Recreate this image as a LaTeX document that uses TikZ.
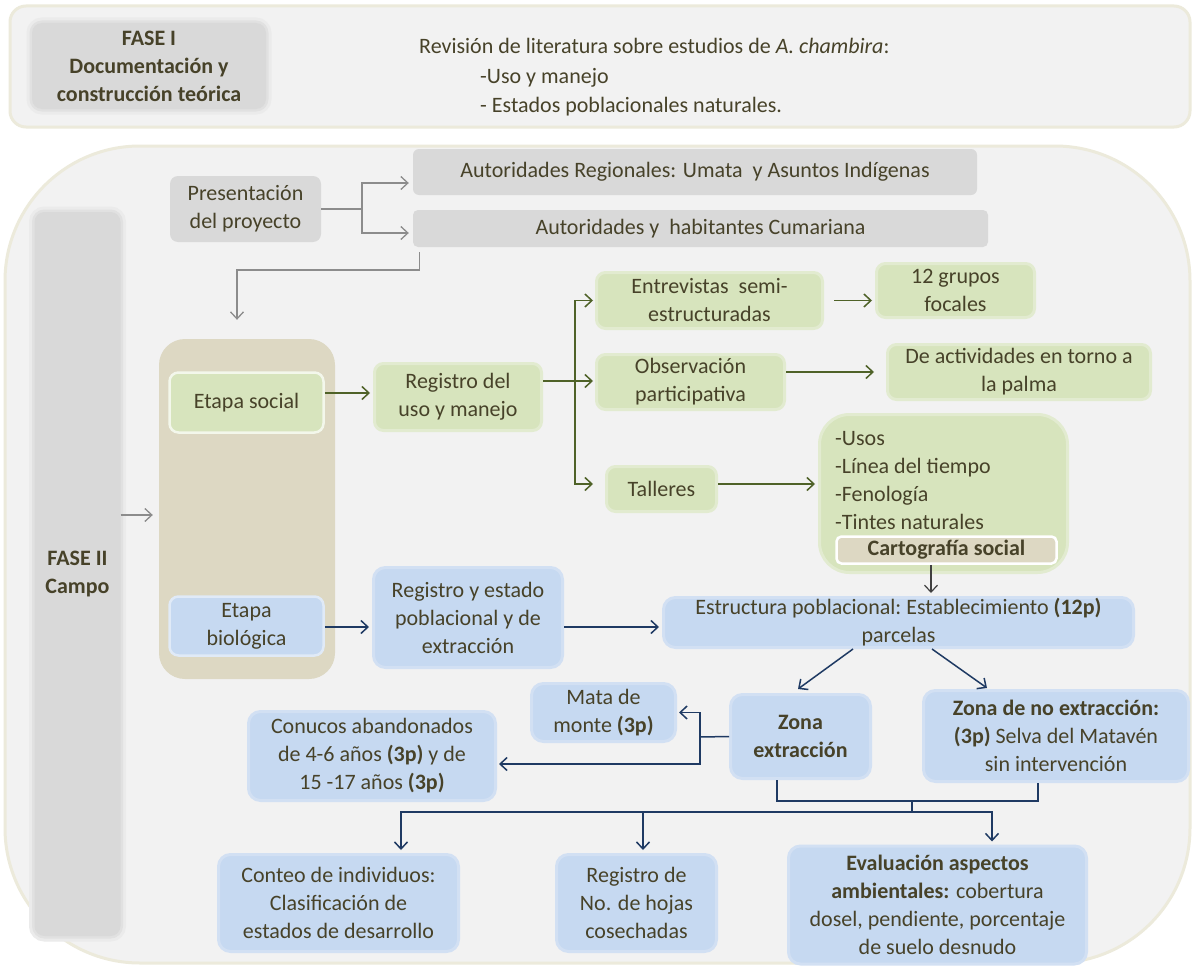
\documentclass[tikz,border=0pt]{standalone}
\usepackage{fontspec}
\setmainfont{Carlito}
\usetikzlibrary{arrows.meta,calc}
\definecolor{txt}{HTML}{474229}
\definecolor{panelfill}{HTML}{F2F2F2}
\definecolor{paneledge}{HTML}{ECEADB}
\definecolor{grayfill}{HTML}{D9D9D9}
\definecolor{grayglowA}{HTML}{EBEBEB}
\definecolor{grayglowB}{HTML}{E1E1E1}
\definecolor{gfill}{HTML}{D7E4BD}
\definecolor{gedge}{HTML}{E2EBD0}
\definecolor{bfill}{HTML}{C6D9F1}
\definecolor{bedge}{HTML}{D2E0F3}
\definecolor{beigec}{HTML}{DDD8C3}
\definecolor{garrowc}{HTML}{4F6228}
\definecolor{barrowc}{HTML}{1F3A63}
\definecolor{grarrowc}{HTML}{8C8C8C}
\definecolor{darrowc}{HTML}{404040}
\begin{document}
\begin{tikzpicture}[x=1pt,y=-1pt,
  nbase/.style={align=center, inner sep=0pt, text=txt, font=\fontsize{22}{28}\selectfont},
  bfont/.style={font=\fontsize{22}{28}\selectfont\bfseries},
  graybox/.style={nbase, fill=grayfill, rounded corners=8pt},
  glowbox/.style={nbase, fill=grayfill, rounded corners=10pt,
    preaction={draw=grayglowA, line width=11pt},
    preaction={draw=grayglowB, line width=5pt}},
  gbox/.style={nbase, fill=gfill, draw=gedge, line width=3pt, rounded corners=9pt},
  bbox/.style={nbase, fill=bfill, draw=bedge, line width=3pt, rounded corners=12pt},
  wgbox/.style={nbase, fill=gfill, draw=white!70!gfill, line width=2.5pt, rounded corners=9pt},
  wbbox/.style={nbase, fill=bfill, draw=white!45!bfill, line width=2.5pt, rounded corners=9pt},
  arrtip/.style={-{Straight Barb[length=7pt,width=13pt]}},
  grarr/.style={draw=grarrowc, line width=1.3pt, arrtip},
  garr/.style={draw=garrowc, line width=1.5pt, arrtip},
  gline/.style={draw=garrowc, line width=1.5pt},
  barr/.style={draw=barrowc, line width=1.5pt, arrtip},
  bline/.style={draw=barrowc, line width=1.5pt},
  darr/.style={draw=darrowc, line width=1.2pt, arrtip},
  textnode/.style={inner sep=0pt, text=txt, font=\fontsize{22}{28}\selectfont}
]
\useasboundingbox (0,0) rectangle (1192,966);
\fill[white] (0,0) rectangle (1192,966);

% ---------- FASE I panel ----------
\path[fill=panelfill, draw=paneledge, line width=3pt, rounded corners=16pt] (10,6) rectangle (1190,127);
\node[glowbox, bfont, minimum width=234pt, minimum height=86pt] (f1) at (149,66) {FASE I\\Documentación y\\construcción teórica};
\node[textnode, anchor=base west] (lit1) at (419,54) {Revisión de literatura\ sobre estudios de \textit{A. chambira}:};
\node[textnode, anchor=base west] (lit2) at (480,84) {-Uso y manejo};
\node[textnode, anchor=base west] (lit3) at (480,112) {- Estados poblacionales\ naturales.};

% ---------- FASE II panel ----------
\path[fill=panelfill, draw=paneledge, line width=3pt, rounded corners=135pt] (5,146) rectangle (1190,963);
\node[glowbox, bfont, minimum width=86pt, minimum height=724pt] (f2) at (77.5,574) {FASE II\\Campo};

\node[graybox, minimum width=151pt, minimum height=66pt] (pres) at (245.5,209) {Presentación\\del proyecto};
\node[graybox, rounded corners=6pt, minimum width=564pt, minimum height=46pt] (autreg) at (695,172) {Autoridades Regionales: Umata\ \ y Asuntos Indígenas};
\node[graybox, rounded corners=5pt, minimum width=575pt, minimum height=37pt] (autcum) at (700.5,228.5) {Autoridades y\ \ habitantes Cumariana};

\node[fill=beigec, rounded corners=26pt, minimum width=176pt, minimum height=340pt, inner sep=0pt] (etapas) at (247,509) {};
\node[wgbox, minimum width=154pt, minimum height=60pt] (esoc) at (246.5,402.5) {Etapa social};
\node[wbbox, minimum width=154pt, minimum height=59pt] (ebio) at (246.5,626) {Etapa\\biológica};

% social branch
\node[gbox, minimum width=167pt, minimum height=67pt] (reguso) at (458,397) {Registro del\\uso y manejo};
\node[gbox, minimum width=226pt, minimum height=56pt] (entrev) at (709.5,300.5) {Entrevistas\ \ semi-\\estructuradas};
\node[gbox, minimum width=158pt, minimum height=54pt] (grupos) at (955.5,290.5) {12 grupos\\focales};
\node[gbox, minimum width=188pt, minimum height=55pt] (obs) at (690.5,382) {Observación\\participativa};
\node[gbox, minimum width=263pt, minimum height=55pt] (activ) at (1019,372) {De actividades\ en torno a\\la palma};
\node[gbox, minimum width=110pt, minimum height=45pt] (talleres) at (661.5,489) {Talleres};
\node[gbox, rounded corners=30pt, minimum width=248pt, minimum height=158pt] (lista) at (943.5,493.5) {};
\node[textnode, align=left, anchor=west] (listtxt) at (835,481) {-Usos\\-Línea del tiempo\\-Fenología\\-Tintes naturales};
\node[nbase, bfont, fill=beigec, draw=white, line width=2.5pt, rounded corners=5pt, minimum width=220pt, minimum height=27pt] (carto) at (946.5,550) {Cartografía social};

% biological branch
\node[bbox, minimum width=189pt, minimum height=100pt] (regest) at (468,617.5) {Registro y estado\\poblacional\ y de\\extracción};
\node[bbox, minimum width=470pt, minimum height=50pt] (estr) at (898.5,622.5) {Estructura poblacional:\ Establecimiento \textbf{(12p)}\\parcelas};
\node[bbox, bfont, minimum width=140pt, minimum height=84pt] (zext) at (800.5,736.5) {Zona\\extracción};
\node[bbox, minimum width=265pt, minimum height=91pt] (zno) at (1056,736) {\textbf{Zona de no extracción:}\\\textbf{(3p)} Selva\ del Matavén\\sin intervención};
\node[bbox, minimum width=144pt, minimum height=58pt] (mata) at (603.5,712.5) {Mata de\\monte \textbf{(3p)}};
\node[bbox, minimum width=247pt, minimum height=89pt] (conucos) at (372,756) {Conucos\ abandonados\\de 4-6 años \textbf{(3p)} y de\\15 -17 años \textbf{(3p)}};
\node[bbox, minimum width=240pt, minimum height=97pt] (conteo) at (338.5,903) {Conteo\ de individuos:\\Clasificación\ de\\estados de desarrollo};
\node[bbox, minimum width=160pt, minimum height=97pt] (hojas) at (636.5,903) {Registro de\\No. de hojas\\cosechadas};
\node[bbox, minimum width=298pt, minimum height=118pt] (eval) at (937.5,905) {\textbf{Evaluación\ aspectos}\\\textbf{ambientales:} cobertura\\dosel, pendiente,\ porcentaje\\de suelo desnudo};

% ---------- connectors: gray ----------
\coordinate (jp) at (362,209);
\draw[grarr, shorten >=4pt] (pres.east) -- (jp) |- ($(autreg.west)+(0,11)$);
\draw[grarr, shorten >=4pt] (jp) |- ($(autcum.west)+(0,4.5)$);
\draw[grarr] ($(autcum.south west)+(7,5)$) |- (237,270) -- ($(etapas.north)+(-10,-19)$);
\draw[grarr] (f2.east |- 0,515) -- ($(etapas.west)+(-6,6)$);

% ---------- connectors: green ----------
\draw[garr, shorten >=3pt] (esoc.east |- 0,393) -- (reguso.west |- 0,393);
\coordinate (jg) at (575,381);
\draw[gline] (reguso.east |- 0,381) -- (jg);
\draw[garr] (jg) -- ($(entrev.west |- 0,381)+(-2,0)$);
\draw[garr] (jg) |- ($(entrev.west)+(-2,0)$);
\draw[garr] (jg) |- ($(entrev.west |- 0,484)+(-2,0)$);
\draw[garr] ($(entrev.east)+(10,0)$) -- ($(grupos.west)+(-3,10)$);
\draw[garr] (obs.east |- 0,372) -- ($(activ.west)+(-12,0)$);
\draw[garr, shorten >=3pt] (talleres.east |- 0,484) -- (lista.west |- 0,484);
\draw[darr] ($(carto.south)+(-15.5,0)$) -- ($(estr.north)+(32.5,-3)$);

% ---------- connectors: blue ----------
\draw[barr, shorten >=3pt] (ebio.east |- 0,627) -- (regest.west |- 0,627);
\draw[barr, shorten >=3pt] (regest.east |- 0,627) -- (estr.west |- 0,627);
\draw[barr] ($(estr.south)+(-45.5,0)$) -- ($(zext.north)+(-2.5,-4)$);
\draw[barr] ($(estr.south)+(33.5,0)$) -- ($(zno.north)+(-69,-1)$);
\coordinate (jz) at (700,737);
\draw[bline] (zext.west) -- (jz);
\draw[barr, shorten >=2pt] (jz) |- (mata.east);
\draw[barr, shorten >=2pt] (jz) |- (conucos.east |- 0,764);
\coordinate (jb) at (912,801);
\coordinate (jd) at (912,812);
\draw[bline] ($(zext.south)+(-23.5,0)$) |- (jb) -| ($(zno.south)+(-18,0)$);
\draw[bline] (jb) -- (jd);
\draw[barr, shorten >=3pt] (jd) -| ($(conteo.north)+(62.5,0)$);
\draw[barr, shorten >=3pt] (jd) -| ($(hojas.north)+(6.5,0)$);
\draw[barr, shorten >=3pt] (jd) -| ($(eval.north)+(54.5,0)$);
\end{tikzpicture}
\end{document}
